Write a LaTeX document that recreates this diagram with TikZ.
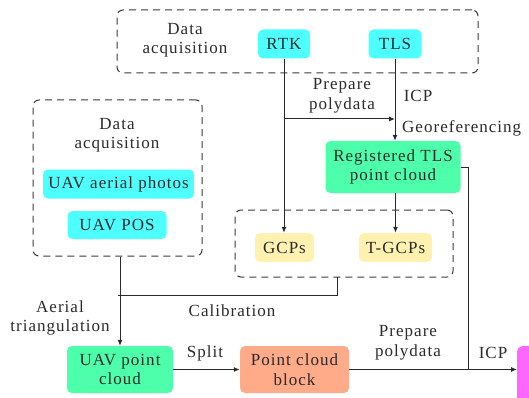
\documentclass[tikz,border=0pt]{standalone}
\usepackage{fontspec}
\setmainfont{Liberation Serif}[LetterSpace=6]
\usetikzlibrary{arrows.meta}
\definecolor{cyanbox}{HTML}{4DFFFF}
\definecolor{greenbox}{HTML}{4DFFAA}
\definecolor{salmonbox}{HTML}{FFAA88}
\definecolor{yellowbox}{HTML}{FFF2B0}
\definecolor{magbox}{HTML}{FF66FF}
\definecolor{ink}{HTML}{2A2A2A}
\definecolor{dashgray}{HTML}{3A3A3A}
\tikzset{
  every node/.style={font=\fontsize{17}{19.5}\selectfont, text=ink, align=center},
  box/.style={rounded corners=5pt, inner sep=0pt, draw=none},
  dashbox/.style={draw=dashgray, line width=1pt, dash pattern=on 7pt off 5pt, rounded corners=6pt, inner sep=0pt},
  conn/.style={draw=ink, line width=1pt},
  arr/.style={conn, -{Latex[length=6pt,width=5pt]}},
  lbl/.style={inner sep=0pt}
}
\begin{document}
\begin{tikzpicture}[x=1pt, y=-1pt]
\useasboundingbox (0,0) rectangle (529,398);
\clip (0,0) rectangle (529,398);
% dashed groups
\node[dashbox, minimum width=361pt, minimum height=63pt] (topgrp) at (297.5,41.5) {};
\node[dashbox, minimum width=169pt, minimum height=156pt] (uavgrp) at (117.5,178) {};
\node[dashbox, minimum width=218pt, minimum height=67pt] (gcpgrp) at (344,243.5) {};
% boxes
\node[box, fill=cyanbox, minimum width=52pt, minimum height=29pt] (rtk) at (284,44) {RTK};
\node[box, fill=cyanbox, minimum width=53pt, minimum height=29pt] (tls) at (395,44) {TLS};
\node[box, fill=greenbox, minimum width=135pt, minimum height=52pt] (reg) at (393,167) {Registered TLS\\point cloud};
\node[box, fill=cyanbox, minimum width=151pt, minimum height=29pt] (photos) at (118.5,184) {UAV aerial photos};
\node[box, fill=cyanbox, minimum width=99pt, minimum height=28pt] (pos) at (117,225) {UAV POS};
\node[box, fill=yellowbox, minimum width=59pt, minimum height=29pt] (gcps) at (284.5,247.5) {GCPs};
\node[box, fill=yellowbox, minimum width=73pt, minimum height=29pt] (tgcps) at (395.5,247.5) {T-GCPs};
\node[box, fill=greenbox, minimum width=106pt, minimum height=47pt] (uavpc) at (120,369.5) {UAV point\\cloud};
\node[box, fill=salmonbox, minimum width=109pt, minimum height=47pt] (block) at (294.5,369.5) {Point cloud\\block};
\node[box, fill=magbox, minimum width=50pt, minimum height=60pt, anchor=north west] (mag) at (517,346) {};
% labels
\node[lbl] (l1) at (185,40) {Data\\acquisition};
\node[lbl] (l2) at (342,96) {Prepare\\polydata};
\node[lbl] (l3) at (418,96) {ICP};
\node[lbl, anchor=west] (l4) at (402,128) {Georeferencing};
\node[lbl] (l5) at (117,135) {Data\\acquisition};
\node[lbl] (l6) at (60,318) {Aerial\\triangulation};
\node[lbl] (l7) at (232,311) {Calibration};
\node[lbl] (l8) at (205,353) {Split};
\node[lbl] (l9) at (408,343) {Prepare\\polydata};
\node[lbl] (l10) at (493,353) {ICP};
% coordinates
\coordinate (j1) at (284,119);
\coordinate (j2) at (395,119);
\coordinate (c1) at (468,167);
\coordinate (c2) at (468,369);
\coordinate (g1) at (337,277);
\coordinate (g2) at (337,295);
\coordinate (g3) at (118,295);
% connectors
\draw[arr] (rtk.south) -- (rtk.south |- gcps.north);
\draw[arr] (tls.south) -- (tls.south |- reg.north);
\draw[arr] (j1) -- (j2);
\draw[arr] (reg.south -| tgcps.north) -- (tgcps.north);
\draw[conn] (reg.east |- c1) -- (c1) -- (c2);
\draw[conn] (g1) -- (g2) -- (g3);
\draw[arr] (uavgrp.south -| uavpc.north) -- (uavpc.north);
\draw[arr] (uavpc.east) -- (block.west);
\draw[arr] (block.east) -- (mag.west |- block.east);
\end{tikzpicture}
\end{document}
